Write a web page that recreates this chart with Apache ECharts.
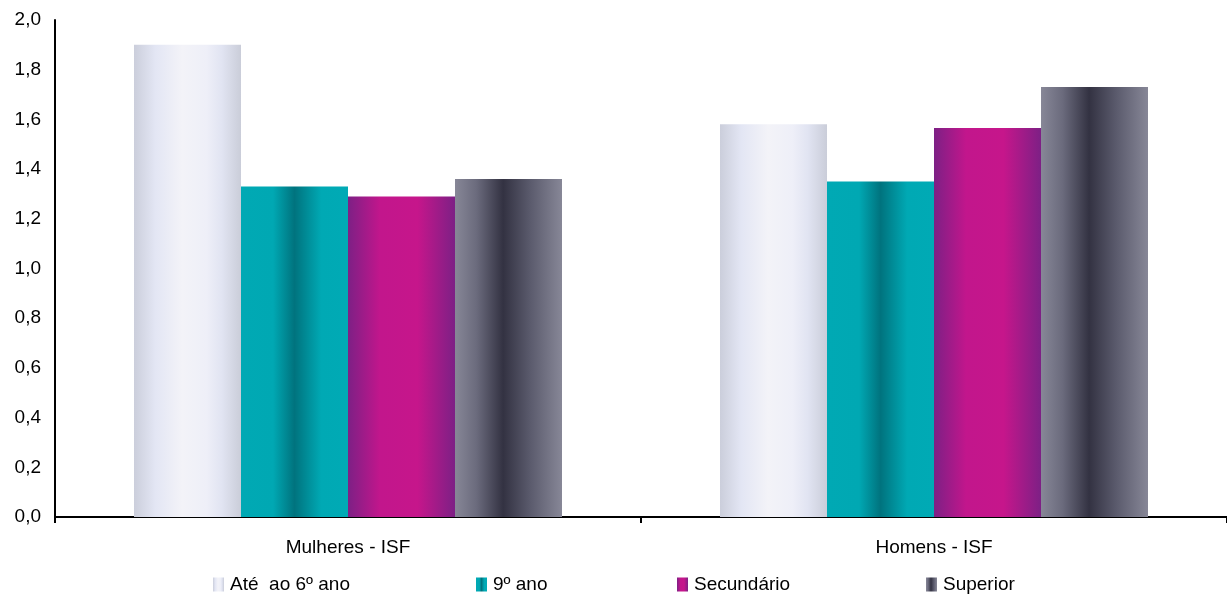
<!DOCTYPE html>
<html>
<head>
<meta charset="utf-8">
<script src="https://cdn.jsdelivr.net/npm/echarts@6/dist/echarts.min.js"></script>
<style>
html,body{margin:0;padding:0;background:#fff;}
#main{width:1227px;height:597px;}
</style>
</head>
<body>
<div id="main"></div>
<script>
var categories = ['Mulheres - ISF', 'Homens - ISF'];
var seriesNames = ['Até  ao 6º ano', '9º ano', 'Secundário', 'Superior'];
var ate6 = [1.90, 1.58];
var ano9 = [1.33, 1.35];
var secundario = [1.29, 1.565];
var superior = [1.36, 1.73];
var yTicks = [0, 0.2, 0.4, 0.6, 0.8, 1.0, 1.2, 1.4, 1.6, 1.8, 2.0];

function grad(stops) {
  return new echarts.graphic.LinearGradient(0, 0, 1, 0, stops.map(function (s) { return { offset: s[0], color: s[1] }; }));
}
var fills = [
  grad([[0, '#cbcedb'], [0.2, '#e3e6f4'], [0.45, '#f3f3f8'], [0.68, '#eeeff8'], [0.82, '#e1e4f2'], [1, '#cacdd9']]),
  grad([[0, '#00a9b4'], [0.3, '#00a8b3'], [0.5, '#00737e'], [0.75, '#00a9b4'], [1, '#00aab5']]),
  grad([[0, '#7d2085'], [0.3, '#c2168c'], [0.65, '#c6168b'], [1, '#7d2085']]),
  grad([[0, '#878797'], [0.2, '#6b6b7d'], [0.45, '#333242'], [0.7, '#5a5a6c'], [1, '#878797']])
];
var dataSets = [ate6, ano9, secundario, superior];
var legendLeft = [213, 476, 677, 926];

var series = dataSets.map(function (d, i) {
  return {
    name: seriesNames[i],
    type: 'bar',
    data: d,
    barWidth: 107,
    barGap: '0%',
    itemStyle: { color: fills[i] },
    emphasis: { disabled: true }
  };
});

var legends = seriesNames.map(function (n, i) {
  return {
    data: [{ name: n, icon: 'rect' }],
    left: legendLeft[i],
    top: 575,
    itemWidth: 11,
    itemHeight: 14,
    itemGap: 0,
    padding: 0,
    textStyle: { fontFamily: 'Liberation Sans', fontSize: 19, color: '#000', padding: [0, 0, 0, 1] },
    selectedMode: false
  };
});

var chart = echarts.init(document.getElementById('main'));
chart.setOption({
  animation: false,
  backgroundColor: '#fff',
  grid: { left: 55, width: 1175, top: 20, bottom: 80, containLabel: false },
  legend: legends,
  xAxis: {
    type: 'category',
    data: categories,
    axisLine: { lineStyle: { color: '#000', width: 2 } },
    axisTick: { show: true, length: 6, interval: 0, lineStyle: { color: '#000', width: 2 } },
    axisLabel: { margin: 21, fontFamily: 'Liberation Sans', fontSize: 19, color: '#000' }
  },
  yAxis: {
    type: 'value',
    min: yTicks[0],
    max: yTicks[yTicks.length - 1],
    interval: 0.2,
    axisLine: { show: true, lineStyle: { color: '#000', width: 2 } },
    axisTick: { show: false },
    splitLine: { show: false },
    axisLabel: {
      margin: 14,
      fontFamily: 'Liberation Sans',
      fontSize: 19,
      color: '#000',
      formatter: function (v) { return v.toFixed(1).replace('.', ','); }
    }
  },
  series: series
});
</script>
</body>
</html>
